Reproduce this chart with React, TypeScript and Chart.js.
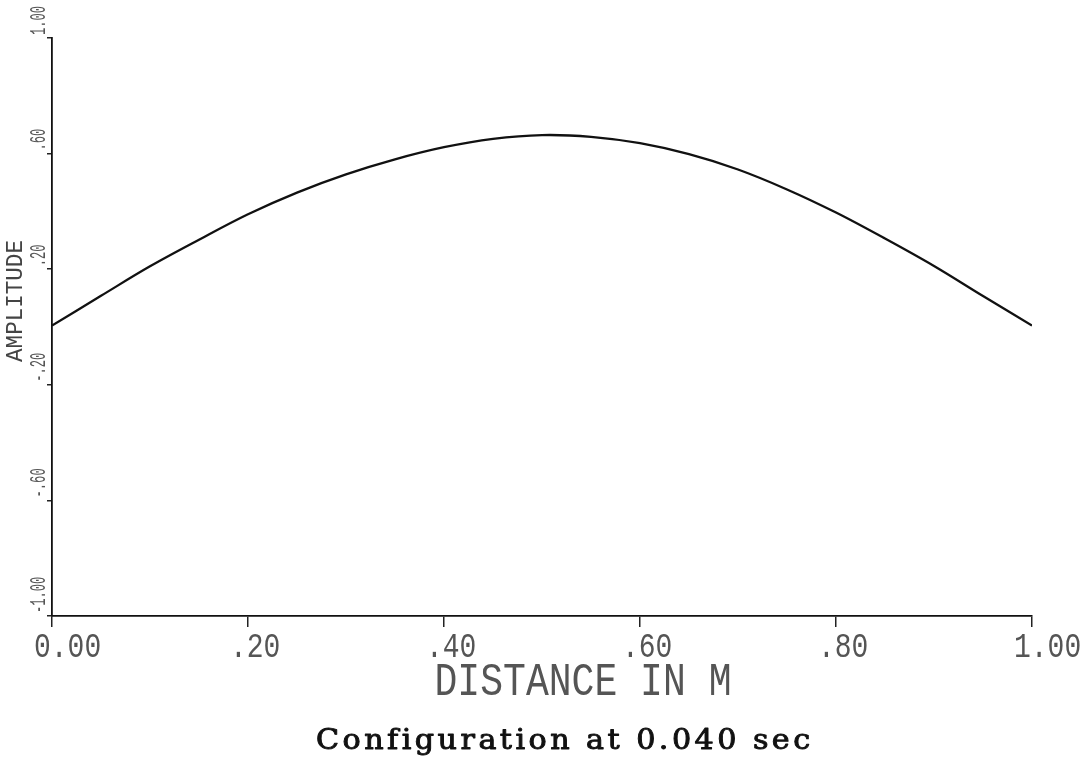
import React, { useEffect, useRef } from "react";
import { Chart, registerables } from "chart.js";

Chart.register(...registerables);

const distance: number[] = [0, 0.05, 0.1, 0.15, 0.2, 0.25, 0.3, 0.35, 0.4, 0.45, 0.5, 0.55, 0.6, 0.65, 0.7, 0.75, 0.8, 0.85, 0.9, 0.95, 1.0];
const amplitude: number[] = [0.005, 0.108, 0.21, 0.302, 0.39, 0.465, 0.528, 0.58, 0.622, 0.651, 0.664, 0.658, 0.636, 0.598, 0.545, 0.476, 0.396, 0.306, 0.211, 0.107, 0.005];

const xTickValues: number[] = [0, 0.2, 0.4, 0.6, 0.8, 1.0];
const xTickLabels: string[] = ["0.00", ".20", ".40", ".60", ".80", "1.00"];
const yTickValues: number[] = [-1.0, -0.6, -0.2, 0.2, 0.6, 1.0];
const yTickLabels: string[] = ["-1.00", "-.60", "-.20", ".20", ".60", "1.00"];

const xTitle = "DISTANCE IN M";
const yTitle = "AMPLITUDE";
const caption = "Configuration at 0.040 sec";

type TextOpts = {
  font: string;
  sx?: number;
  rot?: number;
  align?: CanvasTextAlign;
  baseline?: CanvasTextBaseline;
  color?: string;
  spacing?: string;
  stroke?: number;
};

function drawText(ctx: CanvasRenderingContext2D, text: string, x: number, y: number, o: TextOpts) {
  ctx.save();
  ctx.translate(x, y);
  if (o.rot) ctx.rotate(o.rot);
  ctx.scale(o.sx ?? 1, 1);
  ctx.font = o.font;
  ctx.fillStyle = o.color ?? "#000";
  ctx.textAlign = o.align ?? "left";
  ctx.textBaseline = o.baseline ?? "alphabetic";
  (ctx as any).letterSpacing = o.spacing ?? "0px";
  ctx.fillText(text, 0, 0);
  if (o.stroke) {
    ctx.strokeStyle = o.color ?? "#000";
    ctx.lineWidth = o.stroke;
    ctx.lineJoin = "round";
    ctx.strokeText(text, 0, 0);
  }
  ctx.restore();
}

const labelPlugin = {
  id: "plotterLabels",
  afterDraw(chart: any) {
    const ctx: CanvasRenderingContext2D = chart.ctx;
    const xs = chart.scales.x;
    const ys = chart.scales.y;
    const ca = chart.chartArea;
    const mono = "'Liberation Mono', 'DejaVu Sans Mono', monospace";
    xTickValues.forEach((v, i) => {
      const px = xs.getPixelForValue(v);
      drawText(ctx, xTickLabels[i], px - 18, ca.bottom + 41, {
        font: `35px ${mono}`,
        sx: 0.8,
        color: "#555",
      });
    });
    yTickValues.forEach((v, i) => {
      const py = ys.getPixelForValue(v);
      drawText(ctx, yTickLabels[i], 45, py - 3, {
        font: `22px ${mono}`,
        sx: 0.55,
        rot: -Math.PI / 2,
        color: "#555",
      });
    });
    drawText(ctx, xTitle, 583, ca.bottom + 79, {
      font: `47px ${mono}`,
      sx: 0.81,
      align: "center",
      color: "#555",
    });
    drawText(ctx, yTitle, 22, 301, {
      font: `24px ${mono}`,
      sx: 0.94,
      rot: -Math.PI / 2,
      align: "center",
      color: "#444",
    });
    // caption: typewriter-like slab serif, widened and letter-spaced to its printed width
    const capFont = "27px 'DejaVu Serif', 'Liberation Serif', serif";
    const capSx = 1.12;
    ctx.save();
    ctx.font = capFont;
    (ctx as any).letterSpacing = "0px";
    const w = ctx.measureText(caption).width;
    ctx.restore();
    const spacing = Math.max(0, (497 - w * capSx) / caption.length / capSx);
    drawText(ctx, caption, 316, 749, {
      font: capFont,
      sx: capSx,
      align: "left",
      color: "#111",
      spacing: `${spacing.toFixed(2)}px`,
      stroke: 0.9,
    });
  },
};

export default function App() {
  const canvasRef = useRef<HTMLCanvasElement | null>(null);

  useEffect(() => {
    if (!canvasRef.current) return;
    const chart = new Chart(canvasRef.current, {
      type: "line",
      data: {
        datasets: [
          {
            data: distance.map((d, i) => ({ x: d, y: amplitude[i] })),
            borderColor: "#111",
            borderWidth: 2.3,
            pointRadius: 0,
            tension: 0.35,
            fill: false,
          },
        ],
      },
      options: {
        animation: false,
        responsive: false,
        maintainAspectRatio: false,
        devicePixelRatio: 1,
        layout: { padding: { top: 38, right: 54, left: 0, bottom: 0 } },
        plugins: {
          legend: { display: false },
          tooltip: { enabled: false },
          title: { display: false },
        },
        scales: {
          x: {
            type: "linear",
            min: 0,
            max: 1,
            afterBuildTicks: (scale: any) => {
              scale.ticks = xTickValues.map((v) => ({ value: v }));
            },
            afterFit: (scale: any) => {
              scale.height = 143;
            },
            ticks: { display: false },
            grid: {
              drawOnChartArea: false,
              drawTicks: true,
              tickLength: 11,
              color: "#222",
              lineWidth: 1.5,
            },
            border: { display: true, color: "#111", width: 1.8 },
          },
          y: {
            type: "linear",
            min: -1,
            max: 1,
            afterBuildTicks: (scale: any) => {
              scale.ticks = yTickValues.map((v) => ({ value: v }));
            },
            afterFit: (scale: any) => {
              scale.width = 52;
            },
            ticks: { display: false },
            grid: {
              drawOnChartArea: false,
              drawTicks: true,
              tickLength: 5,
              color: "#222",
              lineWidth: 1.5,
            },
            border: { display: true, color: "#111", width: 1.8 },
          },
        },
      },
      plugins: [labelPlugin],
    } as any);
    return () => chart.destroy();
  }, []);

  return (
    <div style={{ position: "absolute", left: 0, top: 0, width: 1086, height: 759, background: "#fff" }}>
      <canvas ref={canvasRef} width={1086} height={759} style={{ width: 1086, height: 759, display: "block" }} />
    </div>
  );
}
